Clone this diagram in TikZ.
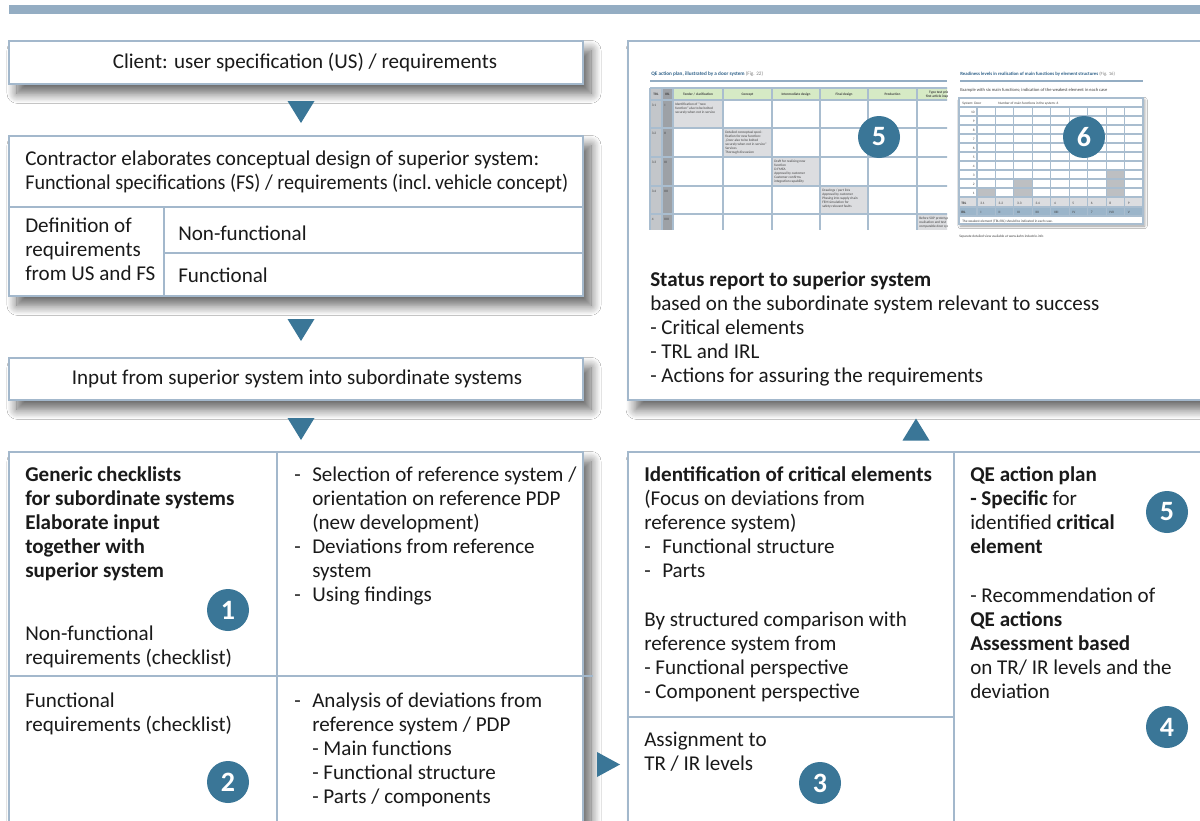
\documentclass[tikz,border=0pt]{standalone}
\usepackage{fontspec}
\setmainfont{Carlito}
\usetikzlibrary{shadows.blur,calc}
\definecolor{bord}{HTML}{A3B8CC}
\definecolor{acc}{HTML}{3A7697}
\definecolor{bar}{HTML}{94ADC3}
\definecolor{tgreen}{HTML}{D6EAC5}
\definecolor{tgray}{HTML}{C3C6CA}
\definecolor{tdark}{HTML}{9DA1A6}
\definecolor{tcell}{HTML}{DCDDE0}
\definecolor{tline}{HTML}{A9BDCF}
\definecolor{tblue}{HTML}{9BB5CA}
\definecolor{tbar}{HTML}{BDBFC2}
\definecolor{ttitle}{HTML}{2E6088}
\definecolor{ink}{HTML}{1A1A1A}
\newcommand{\fs}{\fontsize{15.8pt}{18pt}\selectfont}
\newcommand{\dsh}{\makebox[13.5pt][l]{-}}
\newcommand{\ind}{\hspace*{13.5pt}}
\tikzset{
  panel/.style={draw=bord, line width=1.2pt, fill=white, inner sep=0pt, outer sep=0pt, anchor=north west,
     blur shadow={shadow xshift=6pt, shadow yshift=-7pt, shadow blur radius=7.5pt, shadow blur steps=12, shadow opacity=62}},
  divider/.style={draw=bord, line width=1.2pt},
  txt/.style={anchor=north west, inner sep=0pt, align=left, font=\fs, text=ink, yshift=12.6pt},
  ctxt/.style={anchor=base, inner sep=0pt, font=\fs, text=ink},
  badge/.style={circle, fill=acc, minimum size=31.5pt, inner sep=0pt, text=white, font=\fontsize{21pt}{21pt}\selectfont\bfseries},
  arrowhead/.style={fill=acc},
  tiny/.style={inner sep=0pt, font=\fontsize{2.6pt}{3pt}\selectfont, text=black!75},
  tcelltxt/.style={tiny, anchor=north west, align=left},
  grid1/.style={draw=tline, line width=0.9pt},
}
\begin{document}
\begin{tikzpicture}[x=0.75pt, y=-0.75pt]
\useasboundingbox (0,0) rectangle (1200,821);
\clip (0,0) rectangle (1200,821);
\fill[white] (0,0) rectangle (1200,821);
% top bar
\fill[bar] (9,5) rectangle (1200,14);

% ---------- left column panels ----------
\node[panel, minimum width=430.5pt, minimum height=32.25pt] (client) at (9,41) {};
\node[panel, minimum width=430.5pt, minimum height=120pt] (contractor) at (9,136) {};
\node[panel, minimum width=430.5pt, minimum height=31.5pt] (input) at (9,358) {};
\node[panel, minimum width=430.5pt, minimum height=300pt] (bl) at (9,452) {};
% ---------- right column panels ----------
\node[panel, minimum width=450pt, minimum height=269.25pt] (status) at (628,41) {};
\node[panel, minimum width=450pt, minimum height=300pt] (br) at (628,452) {};

% dividers
\draw[divider] (9,207) -- (583,207);
\draw[divider] (164,207) -- (164,296);
\draw[divider] (164,253) -- (583,253);
\draw[divider] (277,452) -- (277,830);
\draw[divider] (9,676) -- (593,676);
\draw[divider] (954,452) -- (954,830);
\draw[divider] (628,717) -- (954,717);

% ---------- arrowheads ----------
\coordinate (a1) at (301,112);
\coordinate (a2) at (301,330);
\coordinate (a3) at (301,429);
\coordinate (a4) at (916,429.5);
\coordinate (a5) at (608.5,764.5);
\fill[arrowhead] ($(a1)+(-13.5,-11)$) -- ($(a1)+(13.5,-11)$) -- ($(a1)+(0,11)$) -- cycle;
\fill[arrowhead] ($(a2)+(-13.5,-11)$) -- ($(a2)+(13.5,-11)$) -- ($(a2)+(0,11)$) -- cycle;
\fill[arrowhead] ($(a3)+(-13.5,-11)$) -- ($(a3)+(13.5,-11)$) -- ($(a3)+(0,11)$) -- cycle;
\fill[arrowhead] ($(a4)+(-13.5,11)$) -- ($(a4)+(13.5,11)$) -- ($(a4)+(0,-11)$) -- cycle;
\fill[arrowhead] ($(a5)+(-11.5,-12.5)$) -- ($(a5)+(-11.5,12.5)$) -- ($(a5)+(11.5,0)$) -- cycle;

% ---------- texts ----------
\node[ctxt] (clienttxt) at (305,68) {Client: user specification (US) / requirements};
\node[txt] (contrtxt) at (25,165) {\strut Contractor elaborates conceptual design of superior system:\\\scalebox{0.955}[1]{Functional specifications (FS) / requirements (incl.\,vehicle concept)}};
\node[txt] (deftxt) at (25,232) {\strut Definition of\\requirements\\from US and FS};
\node[txt] (nftxt) at (178,240) {\strut Non-functional};
\node[txt] (ftxt) at (178,282) {\strut Functional};
\node[ctxt] (inputtxt) at (297,384) {Input from superior system into subordinate systems};

\node[txt] (gentxt) at (25,481) {\strut\textbf{Generic checklists}\\\textbf{for subordinate systems}\\\textbf{Elaborate input}\\\textbf{together with}\\\textbf{superior system}};
\node[txt] (nfreq) at (25,640) {\strut Non-functional\\requirements (checklist)};
\node[txt] (freq) at (25,707) {\strut Functional\\requirements (checklist)};
\node[txt] (seltxt) at (294,481) {\strut\dsh Selection of reference system /\\\ind orientation on reference PDP\\\ind (new development)\\\dsh Deviations from reference\\\ind system\\\dsh Using findings};
\node[txt] (anatxt) at (294,707) {\strut\dsh Analysis of deviations from\\\ind reference system / PDP\\\ind - Main functions\\\ind - Functional structure\\\ind - Parts / components};

\node[txt] (idtxt) at (644,481) {\strut\textbf{Identification of critical elements}\\(Focus on deviations from\\reference system)\\\dsh Functional structure\\\dsh Parts};
\node[txt] (bytxt) at (644,626) {\strut By structured comparison with\\reference system from\\- Functional perspective\\- Component perspective};
\node[txt] (asstxt) at (644,746) {\strut Assignment to\\TR / IR levels};
\node[txt] (qetxt) at (970,481) {\strut\textbf{QE action plan}\\\textbf{- Specific} for\\identified \textbf{critical}\\\textbf{element}};
\node[txt] (rectxt) at (970,602) {\strut - Recommendation of\\\textbf{QE actions}\\\textbf{Assessment based}\\on TR/ IR levels and the\\deviation};
\node[txt] (stattxt) at (650,286) {\strut\textbf{Status report to superior system}\\based on the subordinate system relevant to success\\- Critical elements\\- TRL and IRL\\- Actions for assuring the requirements};

% ---------- thumbnail 1: QE action plan ----------
\node[tiny, anchor=base west, font=\fontsize{3.9pt}{4.5pt}\selectfont\bfseries, text=ttitle] (th1title) at (651,75) {QE action plan, illustrated by a door system {\mdseries\color{gray}(Fig. 22)}};
\draw[bar, line width=1.5pt] (650,81) -- (947,81);
\begin{scope}
\clip (645,85) rectangle (947,229);
\fill[tgray] (650,88) rectangle (662,232);
\fill[tdark] (662,88) rectangle (673,232);
\fill[tgreen] (673,88) rectangle (966,100);
\fill[tcell] (673,100) rectangle (723,128);
\fill[tcell] (723,128) rectangle (772,157);
\fill[tcell] (772,157) rectangle (820,186);
\fill[tcell] (820,186) rectangle (868,214);
\fill[tcell] (917,214) rectangle (966,232);
\foreach \x in {650,662,673,723,772,820,868,917,966} \draw[grid1] (\x,88) -- (\x,232);
\foreach \y in {88,100,128,157,186,214} \draw[grid1] (650,\y) -- (966,\y);
\node[tiny, anchor=base] (h1) at (656,95.5) {\bfseries TRL};
\node[tiny, anchor=base] (h2) at (667.5,95.5) {\bfseries IRL};
\node[tiny, anchor=base] (h3) at (698,95.5) {\bfseries Tender / clarification};
\node[tiny, anchor=base] (h4) at (747.5,95.5) {\bfseries Concept};
\node[tiny, anchor=base] (h5) at (796,95.5) {\bfseries Intermediate design};
\node[tiny, anchor=base] (h6) at (844,95.5) {\bfseries Final design};
\node[tiny, anchor=base] (h7) at (892.5,95.5) {\bfseries Production};
\node[tiny, anchor=north, align=center] (h8) at (941.5,91) {\bfseries Type test prior to\\\bfseries first article inspection};
\foreach \t/\r [count=\i] in {3.1/I,3.2/II,3.3/III,3.4/IIII,4/IIIII} {
  \pgfmathsetmacro\yy{{0,100,128,157,186,214}[\i]+6}
  \node[tiny, anchor=base west] (rt\i) at (651.5,\yy) {\t};
  \node[tiny, anchor=base west] (ri\i) at (664,\yy) {\r};
}
\node[tcelltxt] (c1) at (675,102.5) {Identification of “new\\function” also to be bolted\\securely when not in service};
\node[tcelltxt] (c2) at (725,130.5) {Detailed conceptual speci-\\fication for new function:\\„Door also to be bolted\\securely when not in service“\\Services\\Thorough discussion};
\node[tcelltxt] (c3) at (774,159.5) {Draft for realising new\\function\\D-FMEA\\Approval by customer\\Customer confirms\\integration capability};
\node[tcelltxt] (c4) at (822,188.5) {Drawings / part lists\\Approval by customer\\Phasing into supply chain\\FEM simulation for\\safety-relevant faults};
\node[tcelltxt] (c5) at (919,216.5) {Before SOP prototype\\realisation and test\\comparable door system};
\end{scope}
\node[badge] (b5t) at (879,137) {5};

% ---------- thumbnail 2: readiness levels ----------
\node[tiny, anchor=base west, font=\fontsize{3.55pt}{4pt}\selectfont\bfseries, text=ttitle] (th2title) at (960,75) {Readiness levels in realisation of main functions by element structures {\mdseries\color{gray}(Fig. 16)}};
\draw[bar, line width=1.5pt] (960,81) -- (1143,81);
\node[tiny, anchor=base west, font=\fontsize{3.4pt}{4pt}\selectfont] (th2sub) at (960,91) {Example with six main functions; indication of the weakest element in each case};
\path[fill=white, draw=tline, line width=0.9pt, blur shadow={shadow xshift=1.2pt, shadow yshift=-1.5pt, shadow blur radius=2pt, shadow opacity=40}] (959,98) rectangle (1143,224);
\fill[tcell] (959,197) rectangle (1143,207);
\fill[tblue] (959,207) rectangle (1143,216);
\fill[tbar] (977,188) rectangle (995.4,197);
\fill[tbar] (1013.9,179) rectangle (1032.3,197);
\fill[tbar] (1106.1,170) rectangle (1124.5,197);
\foreach \y in {107,116,125,134,143,152,161,170,179,188,197,207,216} \draw[grid1] (959,\y) -- (1143,\y);
\foreach \k in {0,...,9} {\pgfmathsetmacro\xx{977+18.444*\k} \draw[grid1] (\xx,107) -- (\xx,216);}
\draw[draw=tline, line width=0.9pt] (959,98) rectangle (1143,224);
\node[tiny, anchor=base west] (sysd) at (962,104) {System: Door};
\node[tiny, anchor=base west] (nmf) at (998,104) {Number of main functions in the system: 6};
\foreach \n [count=\i from 0] in {10,9,8,7,6,5,4,3,2,1} {
  \pgfmathsetmacro\yy{113.5+9*\i}
  \node[tiny, anchor=base east] (lv\i) at (975,\yy) {\n};
}
\node[tiny, anchor=base west] (trlh) at (961,204) {\bfseries TRL};
\node[tiny, anchor=base west] (irlh) at (961,213.5) {\bfseries IRL};
\foreach \t/\r [count=\i from 0] in {3.1/I,3.2/II,3.3/III,3.4/IIII,4/IIIII,5/IV,6 / 7/IVI,8/IVII,9/V} {
  \pgfmathsetmacro\xx{980+18.444*\i}
  \node[tiny, anchor=base west] (tv\i) at (\xx,204) {\t};
  \node[tiny, anchor=base west] (iv\i) at (\xx,213.5) {\r};
}
\node[tiny, anchor=base west] (weak) at (962,222) {The weakest element (TRL/IRL) should be indicated in each case.};
\node[tiny, anchor=base west] (sep) at (959,237) {Separate detailed view available at www.kahn-industrie.info};
\node[badge] (b6) at (1084,137) {6};

% ---------- badges ----------
\node[badge] (b1) at (228,610) {1};
\node[badge] (b2) at (228,782) {2};
\node[badge] (b3) at (820,783) {3};
\node[badge] (b5) at (1167,512) {5};
\node[badge] (b4) at (1167,727) {4};
\end{tikzpicture}
\end{document}
